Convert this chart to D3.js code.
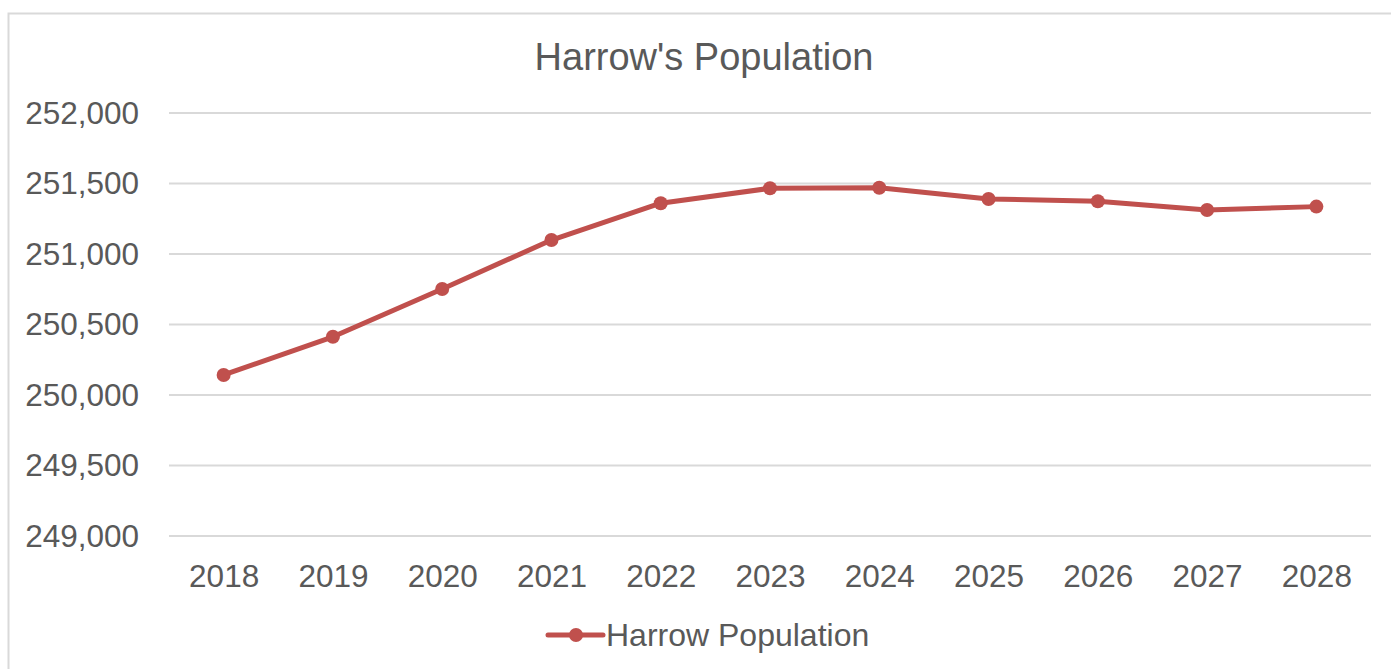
<!DOCTYPE html>
<html>
<head>
<meta charset="utf-8">
<script src="https://cdn.jsdelivr.net/npm/d3@7"></script>
<style>
  body { margin: 0; background: #fff; }
  text { font-family: "Liberation Sans", Arial, sans-serif; fill: #595959; }
</style>
</head>
<body>
<script>
var years = ["2018", "2019", "2020", "2021", "2022", "2023", "2024", "2025", "2026", "2027", "2028"];
var population = [250142, 250413, 250752, 251099, 251360, 251466, 251470, 251390, 251374, 251312, 251336];
var yTicks = [249000, 249500, 250000, 250500, 251000, 251500, 252000];
var seriesName = "Harrow Population";

var width = 1391, height = 669;
var lineColor = "#C0504D";

var svg = d3.select("body").append("svg")
            .attr("width", width)
            .attr("height", height);

// chart frame (runs off the page like the screenshot)
svg.append("rect")
   .attr("x", 8.5).attr("y", 13.5)
   .attr("width", 1400).attr("height", 700)
   .attr("fill", "#fff")
   .attr("stroke", "#D9D9D9")
   .attr("stroke-width", 2);

var x = d3.scalePoint()
          .domain(years)
          .range([169, 1371])
          .padding(0.5);

var y = d3.scaleLinear()
          .domain([249000, 252000])
          .range([536, 113]);

// gridlines
svg.append("g")
   .selectAll("line")
   .data(yTicks)
   .enter()
   .append("line")
   .attr("x1", 169).attr("x2", 1371)
   .attr("y1", function (d) { return y(d); })
   .attr("y2", function (d) { return y(d); })
   .attr("stroke", "#D9D9D9")
   .attr("stroke-width", 2);

// y axis labels
var yAxis = svg.append("g")
   .attr("transform", "translate(139,0)")
   .call(d3.axisLeft(y).tickValues(yTicks).tickFormat(d3.format(",")).tickSize(0).tickPadding(0));
yAxis.select(".domain").remove();
yAxis.selectAll("text")
     .style("font-size", "31.5px")
     .attr("fill", "#595959")
     .attr("font-family", null);

// x axis labels
var xAxis = svg.append("g")
   .attr("transform", "translate(0,536)")
   .call(d3.axisBottom(x).tickSize(0).tickPadding(0));
xAxis.select(".domain").remove();
xAxis.selectAll("text")
     .style("font-size", "31.5px")
     .attr("fill", "#595959")
     .attr("font-family", null)
     .attr("dy", null)
     .attr("y", 51);

// title
svg.append("text")
   .attr("x", 704).attr("y", 70)
   .attr("text-anchor", "middle")
   .style("font-size", "38px")
   .text("Harrow's Population");

// line
var line = d3.line()
             .x(function (d, i) { return x(years[i]); })
             .y(function (d) { return y(d); });

svg.append("path")
   .datum(population)
   .attr("d", line)
   .attr("fill", "none")
   .attr("stroke", lineColor)
   .attr("stroke-width", 5)
   .attr("stroke-linejoin", "round")
   .attr("stroke-linecap", "round");

svg.append("g")
   .selectAll("circle")
   .data(population)
   .enter()
   .append("circle")
   .attr("cx", function (d, i) { return x(years[i]); })
   .attr("cy", function (d) { return y(d); })
   .attr("r", 7)
   .attr("fill", lineColor);

// legend
var legend = svg.append("g");
legend.append("line")
      .attr("x1", 548).attr("x2", 603)
      .attr("y1", 635).attr("y2", 635)
      .attr("stroke", lineColor)
      .attr("stroke-width", 5)
      .attr("stroke-linecap", "round");
legend.append("circle")
      .attr("cx", 576).attr("cy", 635).attr("r", 7)
      .attr("fill", lineColor);
legend.append("text")
      .attr("x", 606).attr("y", 646)
      .style("font-size", "32px")
      .text(seriesName);
</script>
</body>
</html>
